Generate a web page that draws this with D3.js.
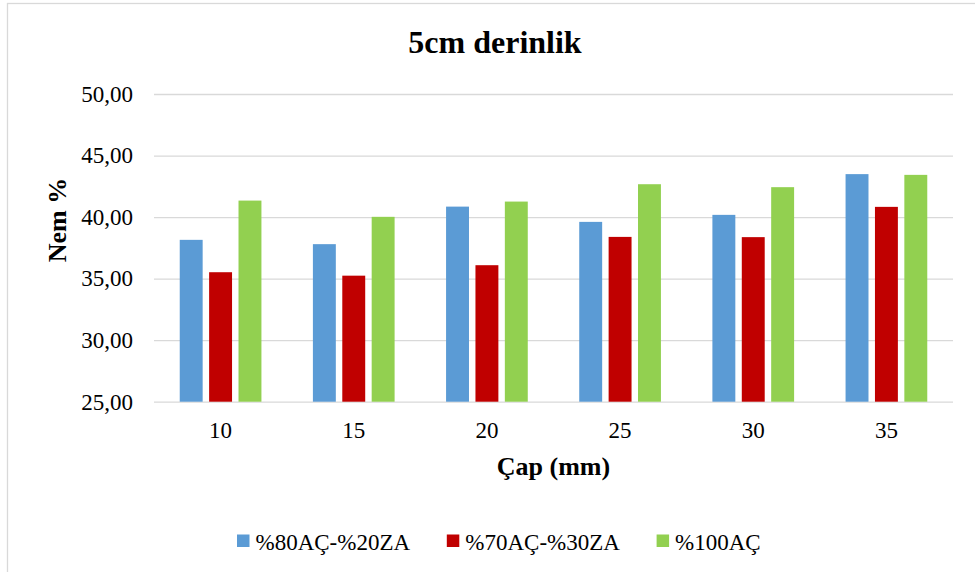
<!DOCTYPE html>
<html>
<head>
<meta charset="utf-8">
<script src="https://cdn.jsdelivr.net/npm/d3@7"></script>
<style>
  body { margin: 0; background: #fff; }
  svg { display: block; font-family: "Liberation Serif", "Times New Roman", serif; }
  .grid line { stroke: #d9d9d9; stroke-width: 1.3; }
  .grid text, .xaxis text { fill: #000; font-size: 23px; font-family: "Liberation Serif", "Times New Roman", serif; }
</style>
</head>
<body>
<svg id="chart" width="975" height="572"></svg>
<script>
// chart data
const categories = ["10", "15", "20", "25", "30", "35"];
const seriesNames = ["%80AÇ-%20ZA", "%70AÇ-%30ZA", "%100AÇ"];
const mix80 = [38.15, 37.80, 40.85, 39.61, 40.18, 43.49];
const mix70 = [35.52, 35.24, 36.09, 38.39, 38.37, 40.83];
const pure100 = [41.34, 40.02, 41.26, 42.67, 42.43, 43.43];
const yTicks = [25, 30, 35, 40, 45, 50];
const seriesColors = ["#5b9bd5", "#c00000", "#92d050"];

const seriesValues = [mix80, mix70, pure100];

const svg = d3.select("#chart");

// outer chart border (cut off on the right and bottom)
svg.append("rect")
    .attr("x", 7.5).attr("y", 3.5)
    .attr("width", 1000).attr("height", 600)
    .attr("fill", "#fff")
    .attr("stroke", "#d9d9d9")
    .attr("stroke-width", 1.3);

const plotL = 154, plotR = 953, plotT = 94, plotB = 401.7;

const x0 = d3.scaleBand().domain(categories).range([plotL, plotR]);
const groupW = 81.7;
const x1 = d3.scaleBand()
    .domain(d3.range(seriesNames.length))
    .range([(x0.bandwidth() - groupW) / 2, (x0.bandwidth() + groupW) / 2])
    .paddingInner(0.22);
const y = d3.scaleLinear().domain([25, 50]).range([plotB, plotT]);

const locale = d3.formatLocale({ decimal: ",", thousands: ".", grouping: [3], currency: ["", ""] });
const fmt = locale.format(".2f");

// gridlines + y labels
const yAxis = svg.append("g")
    .attr("class", "grid")
    .attr("transform", `translate(${plotL},0)`)
    .call(d3.axisLeft(y).tickValues(yTicks).tickFormat(fmt)
        .tickSize(-(plotR - plotL)).tickPadding(21));
yAxis.select(".domain").remove();

// bars
const groups = svg.append("g")
    .selectAll("g")
    .data(categories)
    .join("g")
    .attr("transform", d => `translate(${x0(d)},0)`);

groups.selectAll("rect")
    .data((d, i) => seriesValues.map((vals, s) => ({ s: s, v: vals[i] })))
    .join("rect")
    .attr("x", d => x1(d.s))
    .attr("width", x1.bandwidth())
    .attr("y", d => y(d.v))
    .attr("height", d => y(25) - y(d.v))
    .attr("fill", d => seriesColors[d.s]);

// x axis labels
const xAxis = svg.append("g")
    .attr("class", "xaxis")
    .attr("transform", `translate(0,${plotB})`)
    .call(d3.axisBottom(x0).tickSize(0).tickPadding(20));
xAxis.select(".domain").remove();

// title
svg.append("text")
    .attr("x", 495).attr("y", 53)
    .attr("text-anchor", "middle")
    .attr("font-size", 32)
    .attr("font-weight", "bold")
    .text("5cm derinlik");

// axis titles
svg.append("text")
    .attr("x", (plotL + plotR) / 2).attr("y", 475)
    .attr("text-anchor", "middle")
    .attr("font-size", 26)
    .attr("font-weight", "bold")
    .text("Çap (mm)");

svg.append("text")
    .attr("transform", "translate(66,220) rotate(-90)")
    .attr("text-anchor", "middle")
    .attr("font-size", 26)
    .attr("font-weight", "bold")
    .text("Nem %");

// legend
const legendX = [237, 446.8, 656.6];
const legend = svg.append("g")
    .selectAll("g")
    .data(seriesNames)
    .join("g")
    .attr("transform", (d, i) => `translate(${legendX[i]},534.5)`);

legend.append("rect")
    .attr("width", 12.5).attr("height", 12.5)
    .attr("fill", (d, i) => seriesColors[i]);

legend.append("text")
    .attr("x", 18.5).attr("y", 15)
    .attr("font-size", 23)
    .text(d => d);
</script>
</body>
</html>
